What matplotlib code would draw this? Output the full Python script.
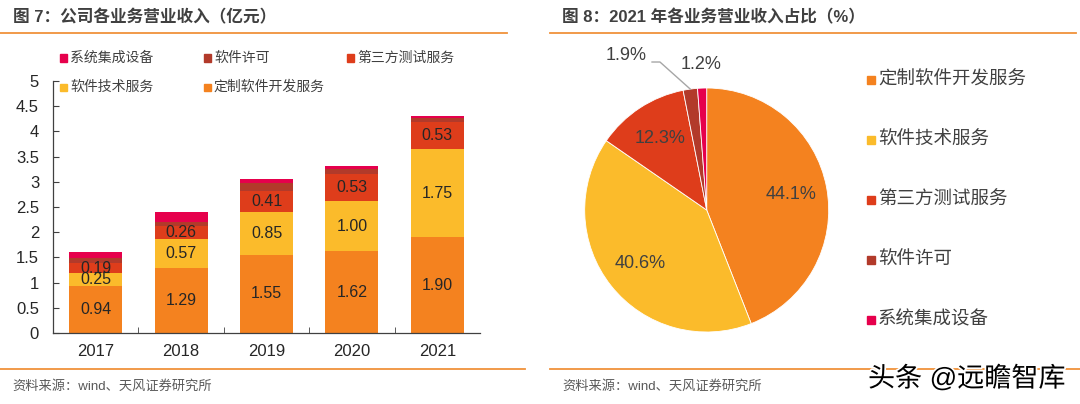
import matplotlib
matplotlib.use("Agg")
import matplotlib.pyplot as plt
import matplotlib.ticker as mticker
import matplotlib.patheffects as pe
from matplotlib.lines import Line2D
from matplotlib.patches import Rectangle
import numpy as np

# ── data ──────────────────────────────────────────────────────────────────────
years = ["2017", "2018", "2019", "2020", "2021"]
custom_dev = [0.94, 1.29, 1.55, 1.62, 1.90]
tech_service = [0.25, 0.57, 0.85, 1.00, 1.75]
third_party_test = [0.19, 0.26, 0.41, 0.53, 0.53]
software_license = [0.10, 0.08, 0.16, 0.11, 0.08]
system_integration = [0.13, 0.20, 0.08, 0.06, 0.05]

series_names = ["定制软件开发服务", "软件技术服务", "第三方测试服务", "软件许可", "系统集成设备"]
labelled = [True, True, True, False, False]

pie_labels = ["定制软件开发服务", "软件技术服务", "第三方测试服务", "软件许可", "系统集成设备"]
pie_shares = [44.1, 40.6, 12.3, 1.9, 1.2]

# ── style ─────────────────────────────────────────────────────────────────────
plt.rcParams["font.family"] = ["Liberation Sans", "Noto Sans CJK SC", "DejaVu Sans"]
COLORS = ["#F4821F", "#FBBB2B", "#DE3D1B", "#B23A2A", "#E6004C"]
ORANGE_LINE = "#F0923A"
TXT = "#404040"

W, H = 1080, 404
fig = plt.figure(figsize=(W / 100, H / 100), dpi=100)


def fx(x):
    return x / W


def fy(y):
    return 1 - y / H


def hline(x0, x1, y):
    fig.add_artist(Line2D([fx(x0), fx(x1)], [fy(y), fy(y)], transform=fig.transFigure,
                          color=ORANGE_LINE, linewidth=1.3))


def legend_item(x, y, color, label, size, fs):
    fig.add_artist(Rectangle((fx(x), fy(y + size / 2)), size / W, size / H,
                             transform=fig.transFigure, color=color))
    fig.text(fx(x + size + 3), fy(y), label, fontsize=fs, color=TXT, va="center", ha="left")


# ── titles / frame lines ─────────────────────────────────────────────────────
fig.text(fx(13), fy(17), "图 7：公司各业务营业收入（亿元）", fontsize=12, fontweight="bold",
         color=TXT, va="center")
fig.text(fx(562), fy(17), "图 8：2021 年各业务营业收入占比（%）", fontsize=12, fontweight="bold",
         color=TXT, va="center")
hline(0, 507, 33)
hline(550, 1076, 33)
hline(0, 525, 369)
hline(550, 1080, 369)
fig.text(fx(12), fy(386), "资料来源：wind、天风证券研究所", fontsize=9.5, color="#595959", va="center")
fig.text(fx(562), fy(386), "资料来源：wind、天风证券研究所", fontsize=9.5, color="#595959", va="center")
fig.text(fx(868), fy(379), "头条 @远瞻智库", fontsize=19.5, color="black", va="center",
         path_effects=[pe.withStroke(linewidth=2.5, foreground="white")])

# ── bar chart ────────────────────────────────────────────────────────────────
ax = fig.add_axes([fx(53), fy(333), (480 - 53) / W, (333 - 81) / H])
x = np.arange(len(years))
stack = [custom_dev, tech_service, third_party_test, software_license, system_integration]
bottom = np.zeros(len(years))
for vals, color, name, lab in zip(stack, COLORS, series_names, labelled):
    vals = np.array(vals)
    ax.bar(x, vals, bottom=bottom, width=0.62, color=color, label=name, zorder=2)
    if lab:
        for xi, b, v in zip(x, bottom, vals):
            ax.text(xi, b + v / 2, f"{v:.2f}", ha="center", va="center", fontsize=11.5,
                    color="#262626", zorder=3)
    bottom += vals

ax.set_xlim(-0.5, len(years) - 0.5)
ax.set_ylim(0, 5)
ax.yaxis.set_major_locator(mticker.MultipleLocator(0.5))
ax.yaxis.set_major_formatter(mticker.FuncFormatter(lambda v, p: f"{v:g}"))
ax.set_xticks(x)
ax.set_xticklabels(years)
ax.set_xticks(np.arange(0.5, len(years) - 1, 1), minor=True)
ax.tick_params(axis="x", which="major", length=0, pad=8, labelsize=12, labelcolor="#262626")
ax.tick_params(axis="x", which="minor", length=4, direction="in", color="#404040")
ax.tick_params(axis="y", length=4, direction="in", pad=10, labelsize=12, labelcolor="#262626",
               color="#404040")
for s in ["top", "right"]:
    ax.spines[s].set_visible(False)
for s in ["left", "bottom"]:
    ax.spines[s].set_color("#404040")
    ax.spines[s].set_linewidth(0.9)

# legend for bars (row-major: 系统, 许可, 第三方 / 技术, 定制)
leg_pos = {"系统集成设备": (60, 58), "软件许可": (204, 58), "第三方测试服务": (347, 58),
           "软件技术服务": (60, 87), "定制软件开发服务": (204, 87)}
for name, color in zip(series_names, COLORS):
    lx, ly = leg_pos[name]
    legend_item(lx, ly, color, name, 7, 10)

# ── pie chart ────────────────────────────────────────────────────────────────
R = 122
cx, cy = 706.7, 210
half = 1.4 * R
ax2 = fig.add_axes([fx(cx - half), fy(cy + half), 2 * half / W, 2 * half / H])
wedges, _ = ax2.pie(pie_shares, colors=COLORS, startangle=90, counterclock=False,
                    wedgeprops=dict(edgecolor="white", linewidth=0.6))
ax2.set_xlim(-1.4, 1.4)
ax2.set_ylim(-1.4, 1.4)
ax2.set_aspect("equal")
ax2.axis("off")

for i, w in enumerate(wedges):
    ang = np.deg2rad((w.theta1 + w.theta2) / 2)
    txt = f"{pie_shares[i]:.1f}%"
    if i < 3:
        ax2.text(0.7 * np.cos(ang), 0.7 * np.sin(ang), txt, ha="center", va="center",
                 fontsize=13, color=TXT)
    elif i == 3:
        ex, ey = np.cos(ang), np.sin(ang)
        ax2.plot([ex, -0.383, -0.448], [ey, 1.213, 1.213], color="#A6A6A6", linewidth=1.0,
                 clip_on=False)
        ax2.text(-0.66, 1.27, txt, ha="center", va="center", fontsize=13, color=TXT)
    else:
        ax2.text(1.19 * np.cos(ang), 1.19 * np.sin(ang), txt, ha="center", va="center",
                 fontsize=13, color=TXT)

for k, (name, color) in enumerate(zip(pie_labels, COLORS)):
    legend_item(867, 80 + 60 * k, color, name, 8, 13.3)

fig.savefig("out.png", dpi=100, facecolor="white")
